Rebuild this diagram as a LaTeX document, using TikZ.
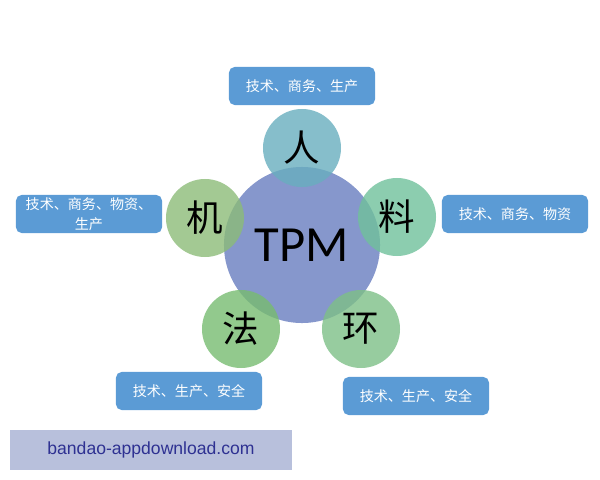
\documentclass[tikz,border=0pt]{standalone}
\usepackage{fontspec}
\usepackage{tikz}
\usetikzlibrary{positioning}
\newfontfamily\cjk{Noto Sans CJK SC}
\newfontfamily\tpmfont{Carlito}
\newfontfamily\wmfont{Liberation Sans}
\definecolor{boxblue}{HTML}{5B9BD5}
\definecolor{corecol}{HTML}{7F91C9}
\definecolor{rencol}{HTML}{68AEBE}
\definecolor{jicol}{HTML}{8CBB78}
\definecolor{liaocol}{HTML}{6FC09B}
\definecolor{facol}{HTML}{77BC70}
\definecolor{huancol}{HTML}{7DBF87}
\definecolor{wmback}{HTML}{B8C0DC}
\definecolor{wmtext}{HTML}{2E3192}

\begin{document}
\begin{tikzpicture}[x=0.025cm, y=-0.025cm,
    core/.style={circle, fill=corecol, fill opacity=0.95, text opacity=1,
      minimum size=3.9cm, inner sep=0pt, font=\tpmfont\fontsize{36}{40}\selectfont},
    part/.style={circle, fill opacity=0.8, text opacity=1, minimum size=1.95cm,
      inner sep=0pt, font=\cjk\fontsize{26}{28}\selectfont},
    tag/.style={rounded corners=4pt, fill=boxblue, text=white, align=center,
      minimum width=3.65cm, minimum height=0.95cm, inner sep=1pt,
      font=\cjk\fontsize{10}{12}\selectfont}]

        \useasboundingbox (0,0) rectangle (600,480);

        % center
        \node[core] (tpm) at (302,245) {TPM};

        % five parts round it
        \node[part, fill=rencol] (ren) at (302,148) {人};
        \node[part, fill=jicol] (ji) at (205,218) {机};
        \node[part, fill=liaocol] (liao) at (397,217) {料};
        \node[part, fill=facol] (fa) at (241,329) {法};
        \node[part, fill=huancol] (huan) at (361,329) {环};

        % their tags
        \node[tag] (renT) at (302,86) {技术、商务、生产};
        \node[tag] (jiT) at (89,214) {技术、商务、物资、\\[2pt]生产};
        \node[tag] (liaoT) at (515,214) {技术、商务、物资};
        \node[tag] (faT) at (189,391) {技术、生产、安全};
        \node[tag] (huanT) at (416,396) {技术、生产、安全};

        % watermark
        \node[fill=wmback, text=wmtext, minimum width=7.05cm, minimum height=0.98cm,
          inner sep=0pt, font=\wmfont\fontsize{12.5}{14}\selectfont] (wm) at (151,450)
          {bandao-appdownload.com};

\end{tikzpicture}
\end{document}
